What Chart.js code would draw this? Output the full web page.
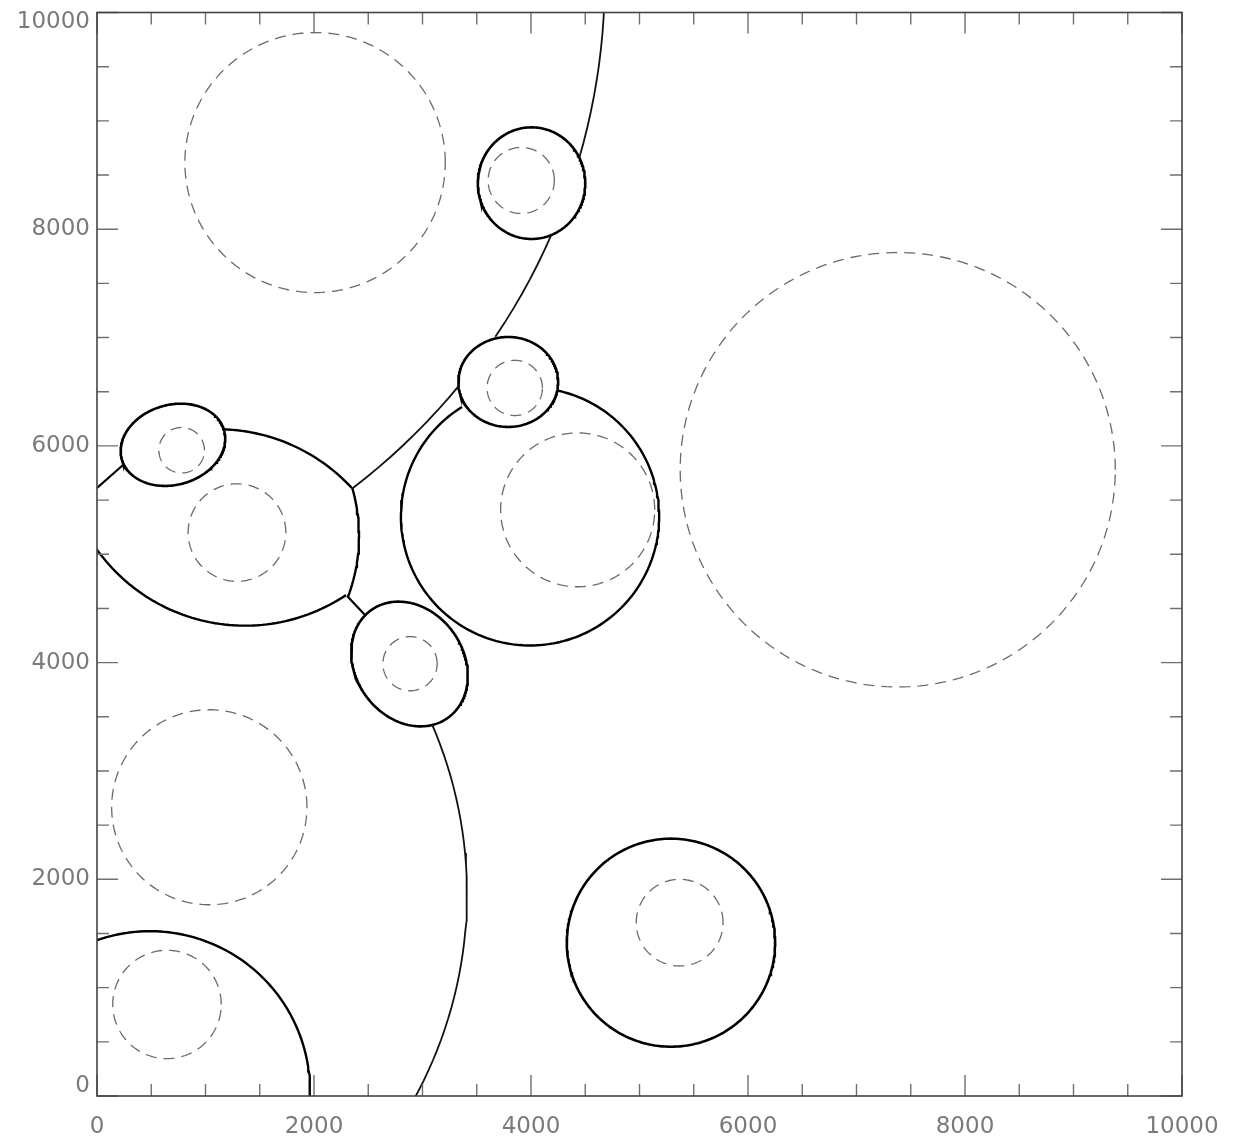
<!DOCTYPE html>
<html>
<head>
<meta charset="utf-8">
<title>Cells</title>
<script src="https://cdn.jsdelivr.net/npm/chart.js@4.4.1/dist/chart.umd.min.js"></script>
<style>
  html, body { margin: 0; padding: 0; background: #fff; }
  canvas { display: block; }
</style>
</head>
<body>
<canvas id="myChart" width="1233" height="1142"></canvas>
<script>
// ticks
const tickValues = [0, 2000, 4000, 6000, 8000, 10000];
const tickLabels = ['0', '2000', '4000', '6000', '8000', '10000'];
const minorTickValues = [500, 1000, 1500, 2500, 3000, 3500, 4500, 5000, 5500, 6500, 7000, 7500, 8500, 9000, 9500];

// dashed circles (centre, radius)
const dashX = [2010, 7380, 3910, 3850, 4430, 1290, 780, 2885, 1035, 645, 5370];
const dashY = [8615, 5780, 8450, 6535, 5410, 5200, 5960, 3990, 2665, 845, 1600];
const dashR = [1200, 2005, 305, 255, 710, 450, 210, 250, 900, 500, 400];

// closed solid cells (centre, semi axes, tilt deg)
const cellX = [4005, 3790, 700, 2880, 5290];
const cellY = [8425, 6590, 6010, 3987, 1415];
const cellA = [495, 460, 490, 610, 960];
const cellB = [515, 415, 369, 498, 960];
const cellTilt = [0, 0, 16, -55, 0];

// open solid boundaries, arcs (centre, radius, from/to deg)
const rimX = [1109, 814, 1364, 488, 3991];
const rimY = [4467, 5169, 6018, 46, 5348];
const rimR = [1687, 1601, 1677, 1475, 1190];
const rimFrom = [42.7, -20.6, -150, -5, 121.8];
const rimTo = [88.2, 16.05, -56.3, 185, 437.5];

// long thin boundaries
const wallX = [-1235, -1235, -1235, -529];
const wallY = [10310, 10310, 10310, 1870];
const wallR = [5915, 5915, 5915, 3939];
const wallFrom = [-2, -23.5, -39.3, 23.4];
const wallTo = [-16.2, -33.95, -52.66, -32];

// short straight joins
const linkX = [[0, 240], [2305, 2479]];
const linkY = [[5611, 5824], [4615, 4430]];

const ellipse = (cx, cy, a, b, tilt, from, to) => {
    const pts = [];
    const n = Math.ceil(Math.abs(to - from) / 1.5) + 1;
    const r = tilt * Math.PI / 180;
    for (let i = 0; i < n; i++) {
        const t = (from + (to - from) * i / (n - 1)) * Math.PI / 180;
        const u = a * Math.cos(t), w = b * Math.sin(t);
        pts.push({ x: cx + u * Math.cos(r) - w * Math.sin(r), y: cy + u * Math.sin(r) + w * Math.cos(r) });
    }
    return pts;
};

const line = (data, color, width, dash) => ({
    data: data,
    showLine: true,
    pointRadius: 0,
    borderColor: color,
    borderWidth: width,
    borderDash: dash || [],
    tension: 0,
    fill: false
});

const datasets = [];
dashX.forEach((x, i) => datasets.push(line(ellipse(x, dashY[i], dashR[i], dashR[i], 0, 0, 360), '#6a6a6a', 1.3, [11, 7])));
wallX.forEach((x, i) => datasets.push(line(ellipse(x, wallY[i], wallR[i], wallR[i], 0, wallFrom[i], wallTo[i]), '#111', 1.8)));
rimX.forEach((x, i) => datasets.push(line(ellipse(x, rimY[i], rimR[i], rimR[i], 0, rimFrom[i], rimTo[i]), '#000', 2.4)));
cellX.forEach((x, i) => datasets.push(line(ellipse(x, cellY[i], cellA[i], cellB[i], cellTilt[i], 0, 360), '#000', 2.6)));
linkX.forEach((xs, i) => datasets.push(line(xs.map((x, j) => ({ x: x, y: linkY[i][j] })), '#000', 2.2)));

const frameTicks = {
    id: 'frameTicks',
    afterDatasetsDraw(chart) {
        const { ctx, chartArea: a, scales: { x, y } } = chart;
        ctx.save();
        ctx.strokeStyle = '#707070';
        ctx.lineWidth = 1.4;
        const tick = (v, len) => {
            const px = x.getPixelForValue(v), py = y.getPixelForValue(v);
            ctx.beginPath();
            ctx.moveTo(px, a.bottom); ctx.lineTo(px, a.bottom - len);
            ctx.moveTo(px, a.top); ctx.lineTo(px, a.top + len);
            ctx.moveTo(a.left, py); ctx.lineTo(a.left + len, py);
            ctx.moveTo(a.right, py); ctx.lineTo(a.right - len, py);
            ctx.stroke();
        };
        tickValues.forEach(v => tick(v, 21));
        minorTickValues.forEach(v => tick(v, 12));
        ctx.strokeStyle = '#444';
        ctx.lineWidth = 1.6;
        ctx.strokeRect(a.left, a.top, a.right - a.left, a.bottom - a.top);
        ctx.restore();
    }
};

// end labels on the y axis sit a little inside the frame, as in the original
const yLabel = (v, i) => {
    if (i === 0) return [tickLabels[i], ''];
    if (i === tickLabels.length - 1) return ['', tickLabels[i]];
    return tickLabels[i];
};

// keep the plot frame where the layout padding puts it
const noPad = s => {
    s.paddingTop = 0; s.paddingBottom = 0; s.paddingLeft = 0; s.paddingRight = 0;
};

new Chart(document.getElementById('myChart').getContext('2d'), {
    type: 'scatter',
    data: { datasets: datasets },
    options: {
        responsive: false,
        animation: false,
        events: [],
        layout: { padding: { left: 0, right: 51, top: 12.5, bottom: 0 } },
        plugins: { legend: { display: false }, tooltip: { enabled: false } },
        scales: {
            x: {
                type: 'linear', min: 0, max: 10000,
                grid: { display: false, drawTicks: false },
                border: { display: false },
                afterBuildTicks: s => { s.ticks = tickValues.map(v => ({ value: v })); },
                afterFit: s => { s.height = 46; noPad(s); },
                ticks: { callback: (v, i) => tickLabels[i], color: '#7a7a7a', font: { family: 'DejaVu Sans', size: 23, lineHeight: 1 }, padding: 20, maxRotation: 0, autoSkip: false }
            },
            y: {
                type: 'linear', min: 0, max: 10000,
                grid: { display: false, drawTicks: false },
                border: { display: false },
                afterBuildTicks: s => { s.ticks = tickValues.map(v => ({ value: v })); },
                afterFit: s => { s.width = 97; noPad(s); },
                ticks: { callback: yLabel, color: '#7a7a7a', font: { family: 'DejaVu Sans', size: 23, lineHeight: 0.85 }, padding: 7, autoSkip: false }
            }
        }
    },
    plugins: [frameTicks]
});
</script>
</body>
</html>
